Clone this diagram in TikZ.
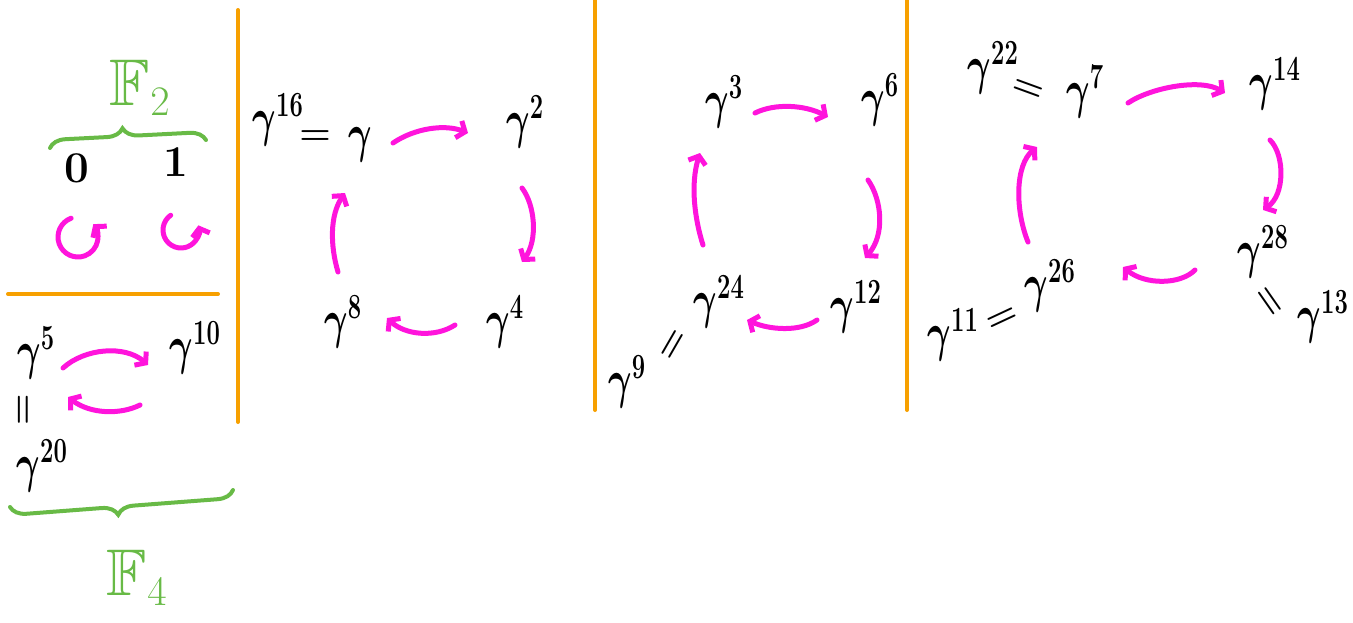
\RequirePackage{fix-cm}
\documentclass[tikz,border=0pt]{standalone}
\usepackage{amsmath,amssymb,graphicx}
\usetikzlibrary{arrows.meta,decorations.pathreplacing}
\DeclareMathSizes{44}{44}{29}{20}
\DeclareMathSizes{66}{66}{42}{30}
\definecolor{mag}{RGB}{255,20,220}
\definecolor{grn}{RGB}{104,186,70}
\definecolor{org}{RGB}{247,160,0}
\newcommand\gampow[1]{\scalebox{0.82}[1.22]{$\gamma^{\mathbf{#1}}$}}
\begin{document}
\begin{tikzpicture}[x=1pt,y=1pt,
  el/.style={inner sep=0pt, font=\fontsize{44}{50}\selectfont\boldmath},
  eqs/.style={inner sep=0pt, font=\fontsize{36}{40}\selectfont\boldmath},
  digit/.style={inner sep=0pt, font=\fontsize{44}{50}\selectfont\bfseries},
  field/.style={inner sep=0pt, text=grn, font=\fontsize{66}{70}\selectfont},
  arr/.style={draw=mag, line width=5pt, line cap=round, line join=round,
    -{Straight Barb[length=7pt,width=18pt]}},
  sep/.style={draw=org, line width=4pt, line cap=round},
  brc/.style={draw=grn, line width=4pt, line cap=round, decorate},
]
\useasboundingbox (0,0) rectangle (1353,-622);

% separators
\draw[sep] (238,-10) -- (238,-422);
\draw[sep] (8,-294) -- (218,-294);
\draw[sep] (595,0) -- (595,-410);
\draw[sep] (907,0) -- (907,-410);

% ---- F2 ----
\node[field] (F2) at (140,-88) {$\mathbb{F}_2$};
\draw[brc, decoration={brace, amplitude=16pt, aspect=0.47}] (50,-148) -- (206,-140);
\node[digit] (n0) at (77,-168) {0};
\node[digit] (n1) at (176,-162) {1};
\draw[arr] (78,-237) ++(110:20) arc[start angle=110, end angle=400, radius=20];
\draw[arr] (181,-230) ++(125:18) arc[start angle=125, end angle=375, radius=18];

% ---- F4 ----
\node[el] (g5) at (36,-353) {\gampow{5}};
\node[el] (g10) at (195,-348) {\gampow{10}};
\node[eqs, rotate=90] (e0) at (25,-410) {$=$};
\node[el] (g20) at (42,-466) {\gampow{20}};
\draw[arr] ([shift={(27,-15)}]g5.center) .. controls (85,-348) and (125,-345) .. ([shift={(-47,-17)}]g10.center);
\draw[arr] ([shift={(-55,-57)}]g10.center) .. controls (120,-415) and (90,-414) .. ([shift={(32,-44)}]g5.center);
\draw[brc, decoration={brace, amplitude=16pt, mirror, aspect=0.48}] (10,-507) -- (233,-490);
\node[field] (F4) at (137,-578) {$\mathbb{F}_4$};

% ---- panel 2 ----
\node[el] (g16) at (278,-120) {\gampow{16}};
\node[eqs] (e1) at (315,-138) {$=$};
\node[el] (g1) at (360,-145) {\gampow{}};
\node[el] (g2) at (525,-122) {\gampow{2}};
\node[el] (g4) at (505,-322) {\gampow{4}};
\node[el] (g8) at (343,-322) {\gampow{8}};
\draw[arr] ([shift={(33,2)}]g1.center) .. controls (415,-128) and (445,-124) .. ([shift={(-57,-11)}]g2.center);
\draw[arr] ([shift={(-3,-66)}]g2.center) .. controls (535,-205) and (538,-240) .. ([shift={(17,60)}]g4.center);
\draw[arr] ([shift={(-50,-3)}]g4.center) .. controls (435,-338) and (405,-335) .. ([shift={(44,4)}]g8.center);
\draw[arr] ([shift={(-5,50)}]g8.center) .. controls (330,-245) and (330,-215) .. ([shift={(-15,-48)}]g1.center);

% ---- panel 3 ----
\node[el] (g3) at (724,-102) {\gampow{3}};
\node[el] (g6) at (880,-100) {\gampow{6}};
\node[el] (g12) at (856,-307) {\gampow{12}};
\node[el] (g24) at (719,-302) {\gampow{24}};
\node[eqs, rotate=60] (e2) at (674,-345) {$=$};
\node[el] (g9) at (627,-382) {\gampow{9}};
\draw[arr] ([shift={(31,-11)}]g3.center) .. controls (775,-103) and (805,-105) .. ([shift={(-52,-17)}]g6.center);
\draw[arr] ([shift={(-12,-80)}]g6.center) .. controls (882,-200) and (885,-235) .. ([shift={(9,49)}]g12.center);
\draw[arr] ([shift={(-39,-13)}]g12.center) .. controls (800,-332) and (770,-330) .. ([shift={(28,-18)}]g24.center);
\draw[arr] ([shift={(-16,57)}]g24.center) .. controls (695,-220) and (690,-185) .. ([shift={(-24,-51)}]g3.center);

% ---- panel 4 ----
\node[el] (g22) at (993,-68) {\gampow{22}};
\node[eqs, rotate=-20] (e3) at (1028,-90) {$=$};
\node[el] (g7) at (1085,-92) {\gampow{7}};
\node[el] (g14) at (1275,-84) {\gampow{14}};
\node[el] (g28) at (1263,-252) {\gampow{28}};
\node[eqs, rotate=-55] (e4) at (1268,-302) {$=$};
\node[el] (g13) at (1323,-317) {\gampow{13}};
\node[el] (g26) at (1050,-286) {\gampow{26}};
\node[eqs, rotate=25] (e5) at (1003,-320) {$=$};
\node[el] (g11) at (953,-335) {\gampow{11}};
\draw[arr] ([shift={(43,-11)}]g7.center) .. controls (1150,-88) and (1200,-78) .. ([shift={(-50,-9)}]g14.center);
\draw[arr] ([shift={(-5,-56)}]g14.center) .. controls (1285,-155) and (1285,-195) .. ([shift={(0,42)}]g28.center);
\draw[arr] ([shift={(-68,-18)}]g28.center) .. controls (1180,-285) and (1145,-285) .. ([shift={(73,19)}]g26.center);
\draw[arr] ([shift={(-22,44)}]g26.center) .. controls (1015,-210) and (1015,-165) .. ([shift={(-48,-55)}]g7.center);
\end{tikzpicture}
\end{document}
